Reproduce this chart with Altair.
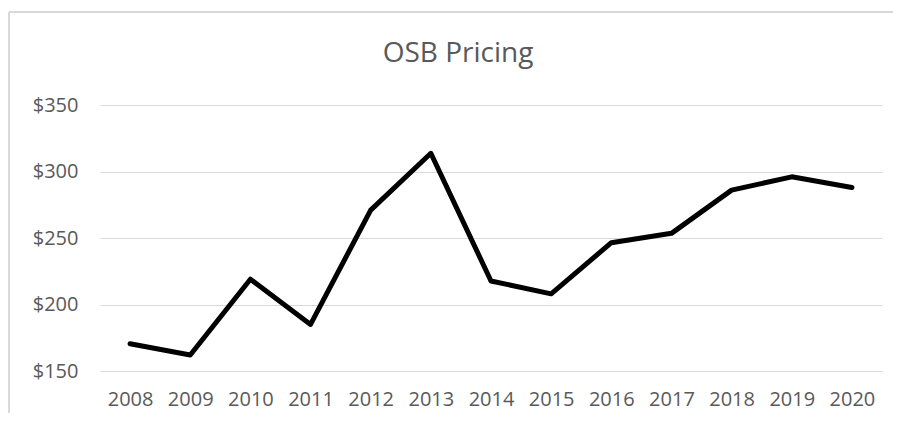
import altair as alt
import pandas as pd

years = ["2008", "2009", "2010", "2011", "2012", "2013", "2014",
         "2015", "2016", "2017", "2018", "2019", "2020"]
prices = [170.5, 162, 219, 185, 271, 313.7, 217.7, 208, 246.5, 253.5, 286, 296, 288]
y_ticks = [150, 200, 250, 300, 350]
title_text = "OSB Pricing"

df = pd.DataFrame({"year": years, "price": prices})

FONT = "Open Sans"
TXT = "#595959"
GRID = "#d9d9d9"

line = alt.Chart(df).mark_line(color="black", strokeWidth=5, strokeJoin="round", strokeCap="round").encode(
    x=alt.X("year:O", sort=years,
            scale=alt.Scale(type="point", padding=0.5),
            axis=alt.Axis(title=None, labelAngle=0, ticks=False, domain=False, grid=False,
                          labelPadding=18, labelFont=FONT, labelFontSize=20, labelColor=TXT)),
    y=alt.Y("price:Q", scale=alt.Scale(domain=[150, 350], nice=False, zero=False),
            axis=alt.Axis(title=None, values=y_ticks, format="$.0f", ticks=False, domain=False,
                          grid=True, gridColor=GRID, gridWidth=1, labelPadding=22,
                          labelFont=FONT, labelFontSize=20, labelColor=TXT)),
)

frame_src = pd.DataFrame({"k": [0]})
top_border = alt.Chart(frame_src).mark_rule(color=GRID, strokeWidth=2).encode(
    x=alt.value(-91), x2=alt.value(800), y=alt.value(-93)
)
left_border = alt.Chart(frame_src).mark_rule(color=GRID, strokeWidth=2).encode(
    x=alt.value(-91), y=alt.value(-93), y2=alt.value(320)
)
title_mark = alt.Chart(frame_src).mark_text(
    font=FONT, fontSize=28, color=TXT, align="center", baseline="alphabetic"
).encode(x=alt.value(358), y=alt.value(-43), text=alt.value(title_text))

chart = alt.layer(top_border, left_border, title_mark, line).properties(
    width=782,
    height=266,
    autosize=alt.AutoSizeParams(type="none"),
    padding={"left": 92, "top": 97, "right": 11, "bottom": 42},
).configure_view(stroke=None)

chart.save("out.html", embed_options={"renderer": "svg", "actions": False})
